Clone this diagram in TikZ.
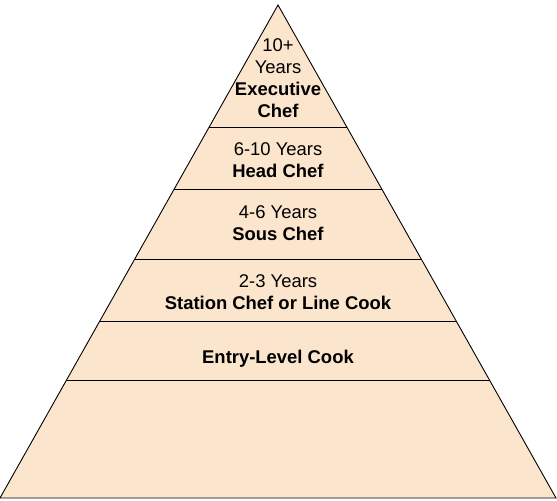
\documentclass[tikz,border=0pt]{standalone}
\usepackage{fontspec}
\setmainfont{Liberation Sans}
\usetikzlibrary{calc}
\definecolor{peach}{HTML}{FCE5CD}

\begin{document}
\begin{tikzpicture}[x=1bp,y=-1bp,
  tier node/.style={align=center,inner sep=0pt,font=\fontsize{18.5}{22}\selectfont},
  divider/.style={draw=black,line width=0.9bp}]
  \useasboundingbox (0,0) rectangle (557,501);

  \coordinate (apex) at (278,5);
  \coordinate (bl) at (0,498);
  \coordinate (br) at (556,498);
  \filldraw[fill=peach,draw=black,line width=0.9bp,line join=miter] (apex) -- (br) -- (bl) -- cycle;

  \foreach \t in {0.2475,0.3732,0.5152,0.641,0.7606}
    \draw[divider] ($(apex)!\t!(bl)$) -- ($(apex)!\t!(br)$);

  \node[tier node] (exec) at (278,78) {10+\\Years\\\textbf{Executive}\\\textbf{Chef}};
  \node[tier node] (head) at (278,160) {6-10 Years\\\textbf{Head Chef}};
  \node[tier node] (sous) at (278,223) {4-6 Years\\\textbf{Sous Chef}};
  \node[tier node] (station) at (278,292.5) {2-3 Years\\\textbf{Station Chef or Line Cook}};
  \node[tier node] (entry) at (278,359) {\textbf{Entry-Level Cook}};
\end{tikzpicture}
\end{document}
